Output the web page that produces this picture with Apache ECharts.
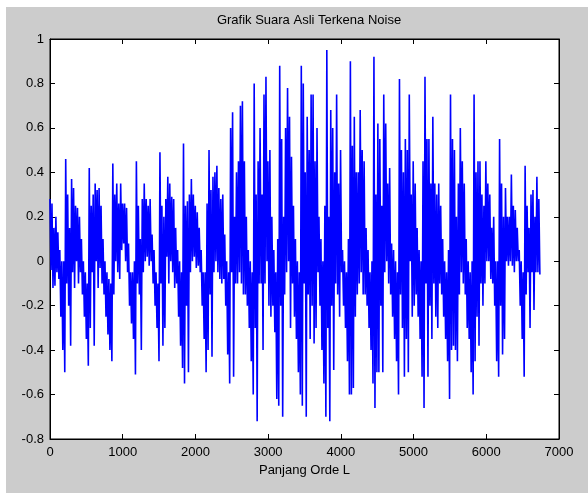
<!DOCTYPE html>
<html>
<head>
<meta charset="utf-8">
<script src="https://cdn.jsdelivr.net/npm/echarts@6/dist/echarts.min.js"></script>
<style>
html,body{margin:0;padding:0;background:#ffffff;}
#c{width:588px;height:493px;}
</style>
</head>
<body>
<div id="c"></div>
<script>
var step = 27;
var hi = [
0.28,0.26,0.15,0.20,0.13,0.05,0.00,0.00,0.46,0.30,
0.15,0.37,0.33,0.25,0.24,0.20,0.10,0.00,-0.05,-0.10,
0.42,0.25,0.30,0.35,0.32,0.33,0.25,0.10,0.00,-0.05,
-0.08,-0.10,0.44,0.30,0.35,0.26,0.35,0.26,0.26,0.24,
0.08,-0.05,-0.05,0.00,0.45,0.25,0.10,0.28,0.35,0.28,
0.25,0.28,0.12,0.05,-0.05,-0.10,0.49,0.25,0.20,0.28,
0.38,0.35,0.29,0.28,0.15,0.05,0.00,-0.05,0.53,0.25,
0.27,0.30,0.37,0.30,0.25,0.22,0.15,0.05,-0.05,-0.05,
0.26,0.50,0.32,0.38,0.40,0.43,0.33,0.28,0.30,0.12,
0.00,-0.05,0.60,0.67,0.20,0.40,0.45,0.70,0.72,0.45,
0.20,0.05,0.00,-0.05,0.80,0.30,0.45,0.60,0.30,0.75,
0.83,0.45,0.50,0.20,0.05,-0.05,0.10,0.88,0.55,0.20,
0.60,0.78,0.65,0.47,0.25,0.10,0.00,-0.05,0.88,0.80,
0.40,0.65,0.50,0.75,0.75,0.45,0.60,0.20,0.10,0.00,
0.25,0.95,0.20,0.68,0.60,0.40,0.75,0.35,0.50,0.05,
0.00,-0.05,0.10,0.90,0.52,0.65,0.40,0.40,0.68,0.50,
0.45,0.15,0.05,-0.05,0.00,0.92,0.30,0.62,0.55,0.25,
0.75,0.62,0.35,0.42,0.08,0.05,0.00,-0.05,0.82,0.50,
0.40,0.55,0.50,0.75,0.30,0.45,0.35,0.15,0.05,0.00,
0.45,0.83,0.55,0.55,0.35,0.65,0.35,0.30,0.35,0.25,
0.10,0.00,-0.05,0.05,0.75,0.55,0.50,0.20,0.35,0.60,
0.45,0.35,0.10,0.00,-0.05,0.00,0.75,0.40,0.45,0.45,
0.30,0.25,0.45,0.35,0.30,0.15,0.20,0.00,0.00,0.55,
0.35,0.20,0.33,0.20,0.20,0.39,0.25,0.23,0.15,0.05,
0.00,-0.05,0.43,0.25,0.15,0.30,0.32,0.20,0.38,0.28
];
var lo = [
-0.04,-0.12,-0.11,-0.05,-0.08,-0.25,-0.40,-0.50,-0.10,-0.20,
-0.38,-0.05,-0.12,0.00,-0.10,-0.05,-0.15,-0.25,-0.35,-0.47,
-0.30,-0.05,-0.38,0.00,-0.12,-0.03,-0.10,-0.15,-0.25,-0.33,
-0.40,-0.45,-0.15,0.00,-0.05,-0.08,0.05,0.08,0.00,-0.05,
-0.20,-0.28,-0.35,-0.51,-0.10,-0.15,-0.40,-0.05,0.00,0.02,
-0.02,0.00,-0.10,-0.20,-0.30,-0.45,-0.10,-0.38,-0.30,0.02,
-0.10,0.00,-0.05,-0.12,-0.10,-0.25,-0.38,-0.48,-0.55,-0.20,
-0.50,-0.05,0.00,0.02,-0.03,-0.02,-0.05,-0.20,-0.35,-0.50,
-0.40,-0.15,-0.43,-0.05,0.00,-0.05,-0.08,-0.10,-0.08,-0.20,
-0.42,-0.55,-0.05,-0.52,-0.10,-0.10,-0.05,-0.10,-0.15,-0.15,
-0.20,-0.30,-0.45,-0.60,-0.30,-0.72,-0.10,-0.10,-0.40,-0.10,
0.00,-0.20,-0.25,-0.20,-0.32,-0.62,-0.65,-0.20,-0.70,-0.15,
-0.05,0.00,-0.30,-0.10,-0.25,-0.35,-0.50,-0.60,-0.65,-0.10,
-0.70,-0.15,-0.35,-0.20,-0.37,-0.30,-0.05,-0.20,-0.40,-0.55,
-0.70,-0.30,-0.72,-0.20,-0.49,-0.10,-0.15,-0.25,-0.05,-0.20,
-0.30,-0.45,-0.60,-0.60,-0.57,-0.25,-0.15,-0.10,-0.05,-0.15,
-0.15,-0.20,-0.30,-0.40,-0.55,-0.66,-0.50,-0.50,-0.20,-0.50,
-0.05,0.00,-0.10,-0.15,-0.25,-0.35,-0.45,-0.60,-0.15,-0.30,
-0.52,-0.35,-0.50,0.00,-0.25,-0.20,-0.15,-0.25,-0.35,-0.52,
-0.66,-0.10,-0.52,-0.20,-0.35,-0.10,-0.25,-0.30,-0.10,-0.15,
-0.25,-0.35,-0.45,-0.62,-0.40,-0.38,-0.40,-0.45,-0.15,-0.05,
-0.10,-0.15,-0.30,-0.35,-0.50,-0.60,-0.45,-0.25,-0.38,-0.10,
-0.20,-0.10,0.00,0.00,-0.08,-0.10,-0.20,-0.45,-0.52,-0.20,
-0.42,-0.35,0.00,-0.02,0.00,-0.02,-0.05,0.00,0.00,-0.20,
-0.35,-0.52,-0.15,-0.05,-0.30,-0.05,-0.22,-0.05,-0.05,-0.06
];
var xTicks = [0, 1000, 2000, 3000, 4000, 5000, 6000, 7000];
var yTicks = [-0.8, -0.6, -0.4, -0.2, 0, 0.2, 0.4, 0.6, 0.8, 1];
var titleText = 'Grafik Suara Asli Terkena Noise';
var xName = 'Panjang Orde L';

var seriesData = [];
for (var k = 0; k < hi.length; k++) {
  seriesData.push([k * step, hi[k]]);
  seriesData.push([k * step + Math.round(step / 2), lo[k]]);
}

var font = 'Liberation Sans, Arial, sans-serif';
var chart = echarts.init(document.getElementById('c'), null, {renderer: 'canvas'});
var axisCommon = {
  axisLine: {show: true, onZero: false, lineStyle: {color: '#000', width: 1}},
  axisTick: {show: true, inside: true, length: 5, lineStyle: {color: '#000'}},
  splitLine: {show: false}
};
chart.setOption({
  animation: false,
  backgroundColor: '#ffffff',
  graphic: [{
    type: 'rect', z: -10, silent: true,
    shape: {x: 6, y: 7, width: 582, height: 486},
    style: {fill: '#cccccc'}
  }],
  title: {
    text: titleText, left: 304, top: 9, textAlign: 'center',
    textStyle: {fontFamily: font, fontSize: 13, fontWeight: 'normal', color: '#000'}
  },
  grid: {left: 50, top: 39, width: 509, height: 400, show: true, backgroundColor: '#ffffff', borderColor: '#000', borderWidth: 1},
  xAxis: [
    Object.assign({}, axisCommon, {
      type: 'value', min: 0, max: 7000, interval: 1000, position: 'bottom',
      name: xName, nameLocation: 'middle', nameGap: 18,
      nameTextStyle: {fontFamily: font, fontSize: 13, color: '#000'},
      axisLabel: {fontFamily: font, fontSize: 13, color: '#000', margin: 7,
        formatter: function (v) { return String(v); }}
    }),
    Object.assign({}, axisCommon, {
      type: 'value', min: 0, max: 7000, interval: 1000, position: 'top',
      axisLabel: {show: false}
    })
  ],
  yAxis: [
    Object.assign({}, axisCommon, {
      type: 'value', min: -0.8, max: 1, interval: 0.2, position: 'left',
      axisLabel: {fontFamily: font, fontSize: 13, color: '#000', margin: 6,
        formatter: function (v) { return String(Math.round(v * 10) / 10); }}
    }),
    Object.assign({}, axisCommon, {
      type: 'value', min: -0.8, max: 1, interval: 0.2, position: 'right',
      axisLabel: {show: false}
    })
  ],
  series: [{
    type: 'line', data: seriesData, xAxisIndex: 0, yAxisIndex: 0,
    showSymbol: false, symbol: 'none', sampling: null,
    lineStyle: {color: '#0000ff', width: 1.6},
    clip: true
  }]
});
</script>
</body>
</html>
